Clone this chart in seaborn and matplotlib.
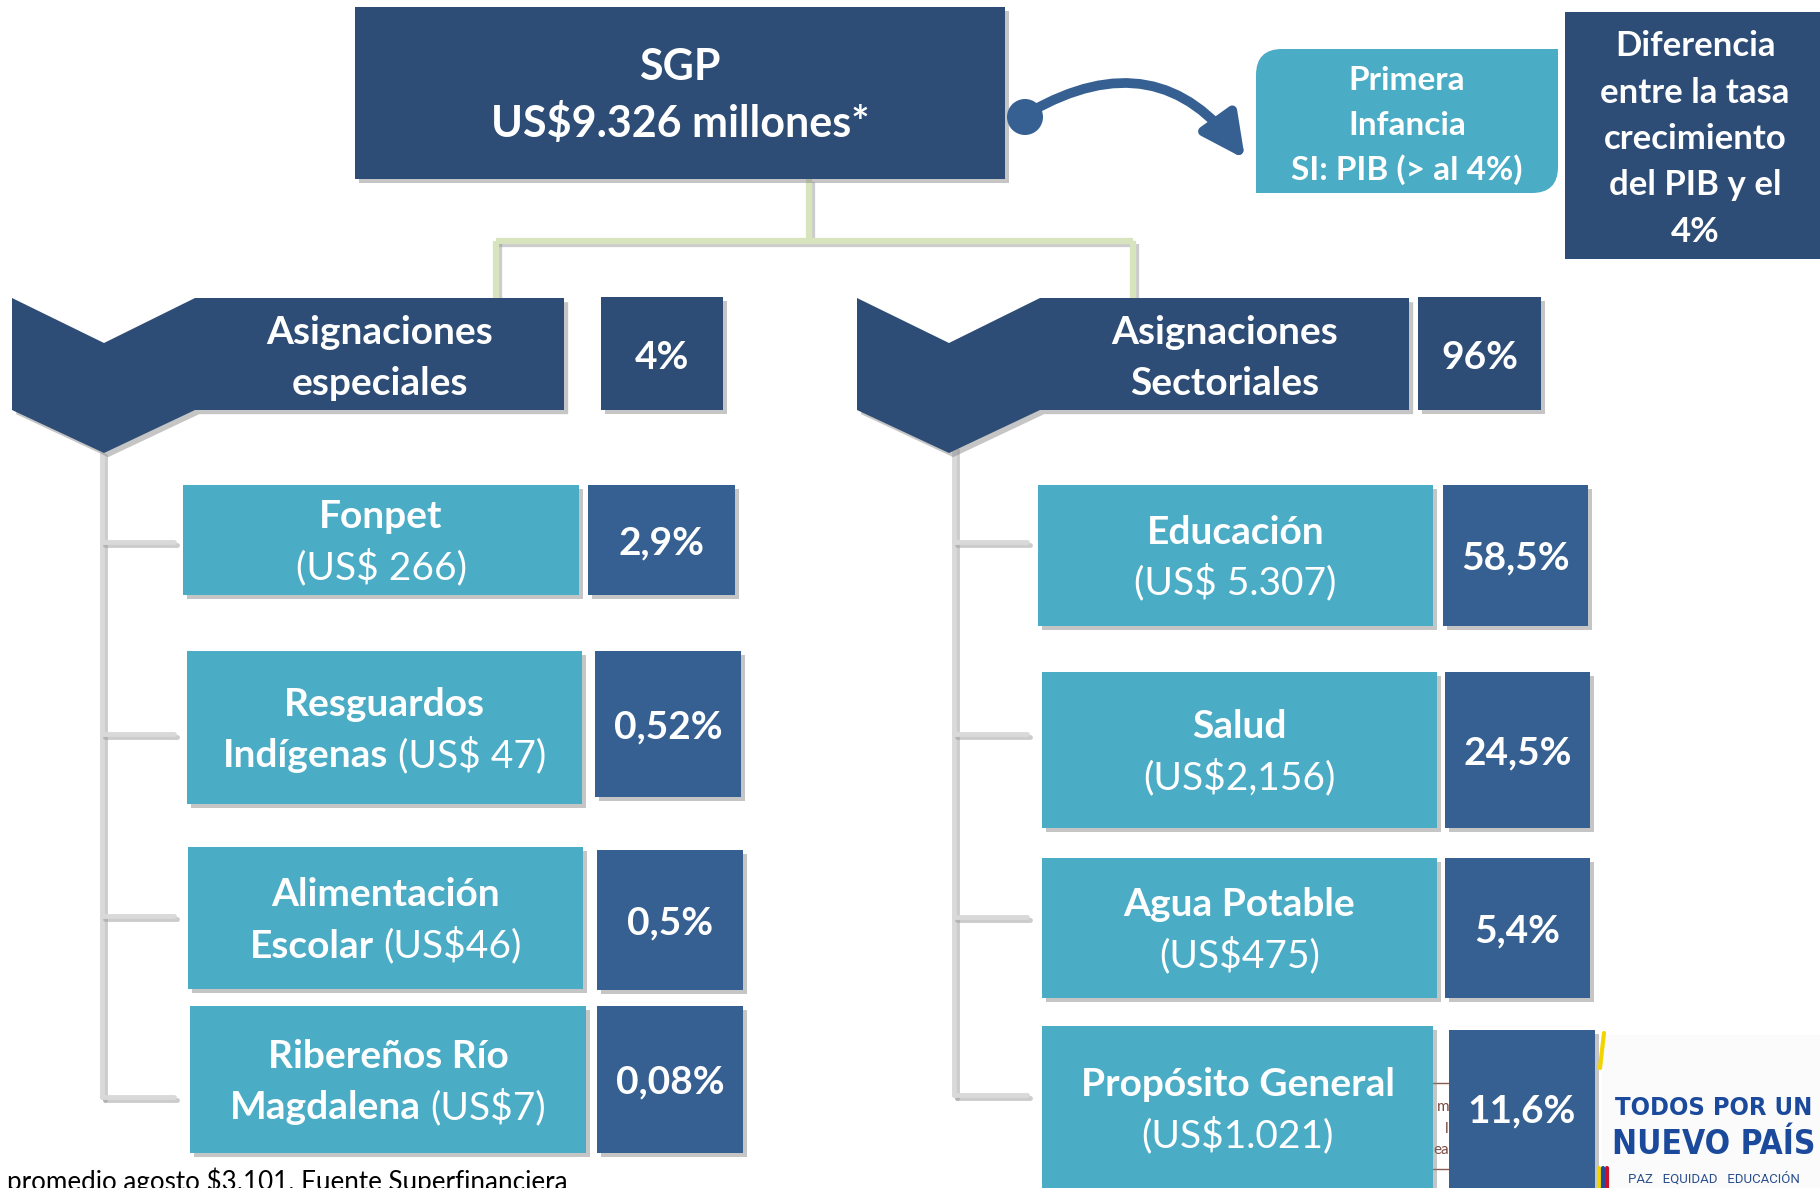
import matplotlib
matplotlib.use("Agg")
import matplotlib.pyplot as plt
import matplotlib.patches as mpatches
import matplotlib.patheffects as pe
import seaborn as sns

# ------------------------- Data -------------------------
total_title = "SGP"
total_amount = "US$9.326 millones*"
infancia_lines = ["Primera", "Infancia", "SI: PIB (> al 4%)"]
diferencia_lines = ["Diferencia", "entre la tasa", "crecimiento", "del PIB y el", "4%"]

group_names = [["Asignaciones", "especiales"], ["Asignaciones", "Sectoriales"]]
group_pcts = ["4%", "96%"]

esp_names = [["Fonpet"], ["Resguardos", "Indígenas"], ["Alimentación", "Escolar"], ["Ribereños Río", "Magdalena"]]
esp_amounts = ["(US$ 266)", "(US$ 47)", "(US$46)", "(US$7)"]
esp_pcts = ["2,9%", "0,52%", "0,5%", "0,08%"]

sec_names = [["Educación"], ["Salud"], ["Agua Potable"], ["Propósito General"]]
sec_amounts = ["(US$ 5.307)", "(US$2,156)", "(US$475)", "(US$1.021)"]
sec_pcts = ["58,5%", "24,5%", "5,4%", "11,6%"]

footnote = "promedio agosto $3.101. Fuente Superfinanciera"
logo_lines = ["TODOS POR UN", "NUEVO PAÍS", "PAZ   EQUIDAD   EDUCACIÓN"]

# ------------------------- Layout (pixels, y down) -------------------------
NAVY = "#2E4D76"
PCT_BLUE = "#366092"
LIGHT = "#4BACC6"
GREEN_LINE = "#D7E4BD"
GRAY_LINE = "#D9D9D9"

sgp_box = (355, 7, 1005, 179)
infancia_box = (1256, 49, 1558, 193)
diferencia_box = (1565, 12, 1820, 259)

group_rects = [(195, 298, 564, 410), (1040, 298, 1409, 410)]
chevron_x = [(12, 104, 195), (857, 949, 1040)]
group_pct_boxes = [(601, 297, 723, 410), (1418, 297, 1541, 410)]

esp_boxes = [(183, 485, 579, 595), (187, 651, 582, 804), (188, 847, 583, 989), (190, 1006, 586, 1153)]
esp_pct_boxes = [(588, 485, 735, 595), (595, 651, 741, 797), (597, 850, 743, 990), (597, 1006, 743, 1153)]
sec_boxes = [(1038, 485, 1433, 626), (1042, 672, 1437, 828), (1042, 858, 1437, 998), (1042, 1026, 1433, 1200)]
sec_pct_boxes = [(1443, 485, 1588, 626), (1445, 672, 1590, 828), (1445, 858, 1590, 998), (1449, 1030, 1595, 1200)]
sec_text_y = [555, 750, 928, 1108]

left_ticks = [542, 734, 916, 1097]
right_ticks = [542, 734, 917, 1095]

# ------------------------- Setup -------------------------
sns.set_theme(style="white")
plt.rcParams["font.family"] = ["Lato", "DejaVu Sans"]

fig = plt.figure(figsize=(18.2, 11.88), dpi=100)
ax = fig.add_axes([0, 0, 1, 1])
ax.set_xlim(0, 1820)
ax.set_ylim(1188, 0)
ax.axis("off")
renderer = fig.canvas.get_renderer()

box_shadow = [pe.SimplePatchShadow(offset=(3, -3), shadow_rgbFace="#808080", alpha=0.45), pe.Normal()]
line_shadow = [pe.SimpleLineShadow(offset=(2, -2), shadow_color="#9a9a9a", alpha=0.5), pe.Normal()]


def box(b, color, shadow=True, z=2):
    x0, y0, x1, y1 = b
    r = mpatches.Rectangle((x0, y0), x1 - x0, y1 - y0, facecolor=color, edgecolor="none", zorder=z)
    if shadow:
        r.set_path_effects(box_shadow)
    ax.add_patch(r)


def px(size):
    return size * 100 / 72


def line_text(xc, y, parts, size, color="white"):
    # parts: list of (text, weight); centred as a whole on xc, y = visual centre of caps
    base = y + 0.36 * px(size)
    texts = [ax.text(0, base, s, fontsize=size, fontweight=w, color=color,
                     ha="left", va="baseline", zorder=5) for s, w in parts]
    widths = [t.get_window_extent(renderer).width for t in texts]
    gap = 0.23 * px(size)
    total = sum(widths) + gap * (len(texts) - 1)
    x = xc - total / 2
    for t, w in zip(texts, widths):
        t.set_x(x)
        x += w + gap


def item_text(b, yc, names, amount, size=28):
    xc = (b[0] + b[2]) / 2
    if len(names) == 1:
        lines = [[(names[0], "bold")], [(amount, "normal")]]
    else:
        lines = [[(names[0], "bold")], [(names[1], "bold"), (amount, "normal")]]
    for i, parts in enumerate(lines):
        line_text(xc, yc + (i - 0.5) * 51, parts, size)


# ------------------------- Connectors -------------------------
for xs, ys in [([809, 809], [179, 241]), ([496, 1133], [241, 241]),
               ([496, 496], [241, 300]), ([1133, 1133], [241, 300])]:
    ax.plot(xs, ys, color=GREEN_LINE, lw=4.5, solid_capstyle="butt", zorder=1,
            path_effects=line_shadow)

for xv, ytop, ticks, xend in [(102, 453, left_ticks, 174), (954, 447, right_ticks, 1027)]:
    ax.plot([xv, xv], [ytop, ticks[-1]], color=GRAY_LINE, lw=3.5, zorder=1, path_effects=line_shadow)
    for ty in ticks:
        ax.plot([xv, xend], [ty, ty], color=GRAY_LINE, lw=3.5, zorder=1, path_effects=line_shadow)

# ------------------------- Top -------------------------
box(sgp_box, NAVY)
cx = (sgp_box[0] + sgp_box[2]) / 2
line_text(cx, 64, [(total_title, "bold")], 31)
line_text(cx, 122, [(total_amount, "bold")], 31)

# curved arrow
ax.add_patch(mpatches.Circle((1025, 117), 18, facecolor=PCT_BLUE, edgecolor="none", zorder=3))
ax.add_patch(mpatches.FancyArrowPatch((1030, 112), (1245, 159), connectionstyle="arc3,rad=-0.45",
                                      arrowstyle=mpatches.ArrowStyle("-|>", head_length=1.3, head_width=0.65),
                                      mutation_scale=20, lw=7, color=PCT_BLUE, shrinkA=0, shrinkB=0,
                                      zorder=3))

x0, y0, x1, y1 = infancia_box
ax.add_patch(mpatches.FancyBboxPatch((x0, y0), x1 - x0, y1 - y0, boxstyle="round,pad=0,rounding_size=26",
                                     facecolor=LIGHT, edgecolor="none", zorder=2))
box((x1 - 30, y0, x1, y0 + 30), LIGHT, shadow=False)
box((x0, y1 - 30, x0 + 30, y1), LIGHT, shadow=False)
for i, s in enumerate(infancia_lines):
    line_text((x0 + x1) / 2, 78 + i * 45, [(s, "bold")], 24)

box(diferencia_box, NAVY, shadow=False)
for i, s in enumerate(diferencia_lines):
    line_text(1695, 44 + i * 46.3, [(s, "bold")], 25)

# ------------------------- Group headers -------------------------
for rect, (cl, cm, cr), pb, names, pct in zip(group_rects, chevron_x, group_pct_boxes, group_names, group_pcts):
    rx0, ry0, rx1, ry1 = rect
    poly = mpatches.Polygon([(cl, ry0), (cm, ry0 + 45), (cr, ry0), (rx1, ry0), (rx1, ry1),
                             (cr, ry1), (cm, ry1 + 43), (cl, ry1)],
                            closed=True, facecolor=NAVY, edgecolor="none", zorder=2)
    poly.set_path_effects(box_shadow)
    ax.add_patch(poly)
    for i, s in enumerate(names):
        line_text((cr + rx1) / 2, 330 + i * 51, [(s, "bold")], 28)
    box(pb, NAVY)
    line_text((pb[0] + pb[2]) / 2, 355, [(pct, "bold")], 28)

# ------------------------- Items -------------------------
for b, pb, names, amt, pct in zip(esp_boxes, esp_pct_boxes, esp_names, esp_amounts, esp_pcts):
    box(b, LIGHT)
    item_text(b, (b[1] + b[3]) / 2, names, amt)
    box(pb, PCT_BLUE)
    line_text((pb[0] + pb[2]) / 2, (pb[1] + pb[3]) / 2, [(pct, "bold")], 28)

for b, pb, yc, names, amt, pct in zip(sec_boxes, sec_pct_boxes, sec_text_y, sec_names, sec_amounts, sec_pcts):
    box(b, LIGHT)
    item_text(b, yc, names, amt)
    box(pb, PCT_BLUE)
    line_text((pb[0] + pb[2]) / 2, yc, [(pct, "bold")], 28)

# fragment of underlying slide between the last boxes
for yy in [1083, 1169]:
    ax.plot([1433, 1449], [yy, yy], color="#8C5A50", lw=1, zorder=1)
clip = mpatches.Rectangle((1434, 1083), 15, 86, transform=ax.transData)
for yy, s in [(1107, "m"), (1129, "l"), (1150, "ea")]:
    t = ax.text(1449, yy, s, fontsize=11, color="#7A4A40", ha="right", va="center", zorder=1)
    t.set_clip_path(clip)

# ------------------------- Footnote & logo -------------------------
ax.text(7, 1190, footnote, fontsize=18.7, color="black", ha="left", va="baseline", zorder=5)

ax.add_patch(mpatches.Rectangle((1602, 1035), 218, 153, facecolor="#FBFBFB", edgecolor="none", zorder=1))
ax.plot([1604, 1600], [1033, 1068], color="#F2D500", lw=3, zorder=2)
for col, xx in [("#F2D500", 1599), ("#1F4E9A", 1603), ("#C8102E", 1607)]:
    ax.plot([xx, xx], [1168, 1188], color=col, lw=3, zorder=2)
logo_font = ["DejaVu Sans", "Roboto"]
ax.text(1714, 1108, logo_lines[0], fontsize=18.3, fontweight="bold", fontstretch="condensed",
        family=logo_font, color="#1B4A9C", ha="center", va="center", zorder=3)
ax.text(1714, 1145, logo_lines[1], fontsize=24, fontweight="bold", fontstretch="condensed",
        family=logo_font, color="#1B4A9C", ha="center", va="center", zorder=3)
ax.text(1714, 1179, logo_lines[2], fontsize=9.5, family=["Roboto", "DejaVu Sans"],
        color="#2A4F8F", ha="center", va="center", zorder=3)

fig.savefig("out.png", dpi=100)
plt.close(fig)
